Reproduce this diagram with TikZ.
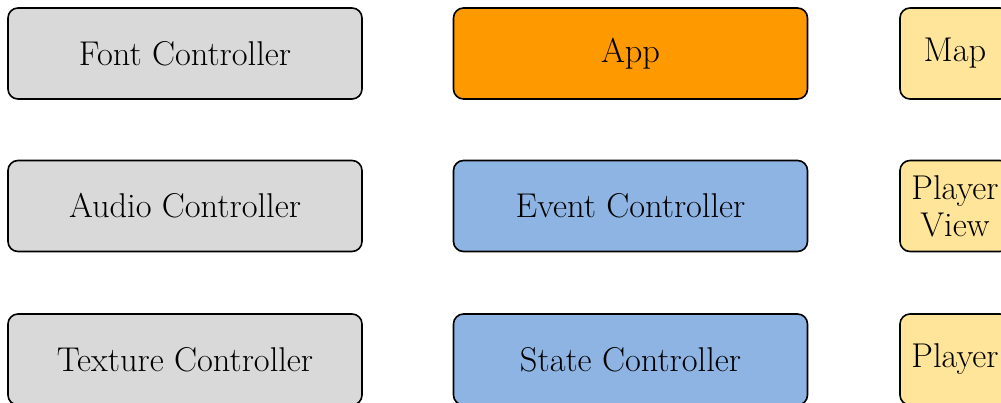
\documentclass[tikz,border=0pt]{standalone}
\usepackage{xcolor}
\definecolor{boxgrey}{HTML}{D9D9D9}
\definecolor{boxorange}{HTML}{FF9900}
\definecolor{boxblue}{HTML}{8EB4E3}
\definecolor{boxyellow}{HTML}{FFE599}
\begin{document}
\begin{tikzpicture}[x=1pt,y=1pt,
  cbox/.style={draw=black, line width=0.8pt, rounded corners=5pt, rectangle,
    minimum height=45.5pt, inner sep=0pt, align=center,
    font=\fontsize{17.2}{18.5}\selectfont},
  widebox/.style={cbox, minimum width=177pt},
  narrowbox/.style={cbox, minimum width=55pt, fill=boxyellow},
  greybox/.style={widebox, fill=boxgrey},
  bluebox/.style={widebox, fill=boxblue},
  orangebox/.style={widebox, fill=boxorange}]
\useasboundingbox (0,0) rectangle (500.5,-201);
\clip (0,0) rectangle (500.5,-201);
\node[greybox] (font) at (92.5,-26.75) {Font Controller};
\node[greybox] (audio) at (92.5,-103) {Audio Controller};
\node[greybox] (texture) at (92.5,-179.75) {Texture Controller};
\node[orangebox] (app) at (315.25,-26.75) {App};
\node[bluebox] (event) at (315.25,-103) {Event Controller};
\node[bluebox] (state) at (315.25,-179.75) {State Controller};
\node[narrowbox] (map) at (477.5,-26.75) {Map};
\node[narrowbox] (pview) at (477.5,-103) {Player\\View};
\node[narrowbox] (player) at (477.5,-179.75) {Player};
\end{tikzpicture}
\end{document}
